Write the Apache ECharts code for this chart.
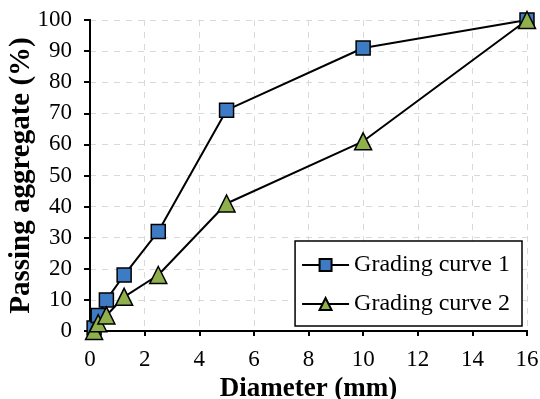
<!DOCTYPE html>
<html>
<head>
<meta charset="utf-8">
<script src="https://cdn.jsdelivr.net/npm/echarts@6/dist/echarts.min.js"></script>
<style>
  html, body { margin: 0; padding: 0; background: #fff; }
  #chart { width: 540px; height: 399px; }
</style>
</head>
<body>
<div id="chart"></div>
<script>
// sieve sizes (mm)
const diameters = [0.15, 0.3, 0.6, 1.25, 2.5, 5, 10, 16]
const curve1 = [1, 5, 10, 18, 32, 71, 91, 100]
const curve2 = [0, 2.5, 5, 11, 18, 41, 61, 100]
const seriesNames = ['Grading curve 1', 'Grading curve 2']

const font = 'Liberation Serif'
const chart = echarts.init(document.getElementById('chart'))

const pairs = (ys) => diameters.map((d, i) => [d, ys[i]])
const gridDash = { color: '#d9d9d9', type: [6, 6], width: 1 }

chart.setOption({
  animation: false,
  grid: {
    left: 90,
    right: 13,
    top: 20,
    bottom: 68,
    outerBoundsMode: 'none',
    containLabel: false
  },
  legend: {
    orient: 'vertical',
    right: 18,
    bottom: 73,
    padding: [12, 12, 10, 6],
    itemGap: 15,
    itemWidth: 47,
    itemHeight: 15,
    backgroundColor: '#fff',
    borderColor: '#000',
    borderWidth: 1.5,
    borderRadius: 0,
    textStyle: { fontFamily: font, fontSize: 24, color: '#000' },
    data: seriesNames
  },
  xAxis: [
    {
      type: 'value',
      min: 0,
      max: 16,
      interval: 2,
      name: 'Diameter (mm)',
      nameLocation: 'middle',
      nameGap: 39,
      nameTextStyle: { fontFamily: font, fontSize: 27, fontWeight: 'bold', color: '#000' },
      axisLine: { lineStyle: { color: '#000', width: 2 } },
      axisTick: { length: 5, lineStyle: { color: '#000', width: 2 } },
      axisLabel: { fontFamily: font, fontSize: 23, color: '#000', margin: 17 },
      splitLine: { show: true, lineStyle: gridDash }
    },
    {
      type: 'value',
      position: 'top',
      min: 0,
      max: 16,
      axisLine: { show: true, lineStyle: { color: '#000', width: 2 } },
      axisTick: { show: false },
      axisLabel: { show: false },
      splitLine: { show: false }
    }
  ],
  yAxis: [
    {
      type: 'value',
      min: 0,
      max: 100,
      interval: 10,
      name: 'Passing aggregate (%)',
      nameLocation: 'middle',
      nameGap: 54,
      nameMoveOverlap: false,
      nameTextStyle: { fontFamily: font, fontSize: 29, fontWeight: 'bold', color: '#000' },
      axisLine: { show: true, lineStyle: { color: '#000', width: 2 } },
      axisTick: { show: true, length: 6, lineStyle: { color: '#000', width: 2 } },
      axisLabel: { fontFamily: font, fontSize: 23, color: '#000', margin: 18 },
      splitLine: { show: true, lineStyle: gridDash }
    },
    {
      type: 'value',
      position: 'right',
      min: 0,
      max: 100,
      axisLine: { show: true, lineStyle: { color: '#000', width: 2 } },
      axisTick: { show: false },
      axisLabel: { show: false },
      splitLine: { show: false }
    }
  ],
  series: [
    {
      name: seriesNames[0],
      type: 'line',
      data: pairs(curve1),
      symbol: 'rect',
      symbolSize: 14,
      lineStyle: { color: '#000', width: 2 },
      itemStyle: { color: '#3d7cc4', borderColor: '#000', borderWidth: 1.5 },
      z: 3
    },
    {
      name: seriesNames[1],
      type: 'line',
      data: pairs(curve2),
      symbol: 'triangle',
      symbolSize: 17,
      lineStyle: { color: '#000', width: 2 },
      itemStyle: { color: '#8fb04c', borderColor: '#000', borderWidth: 1.5 },
      z: 4
    }
  ]
})
</script>
</body>
</html>
